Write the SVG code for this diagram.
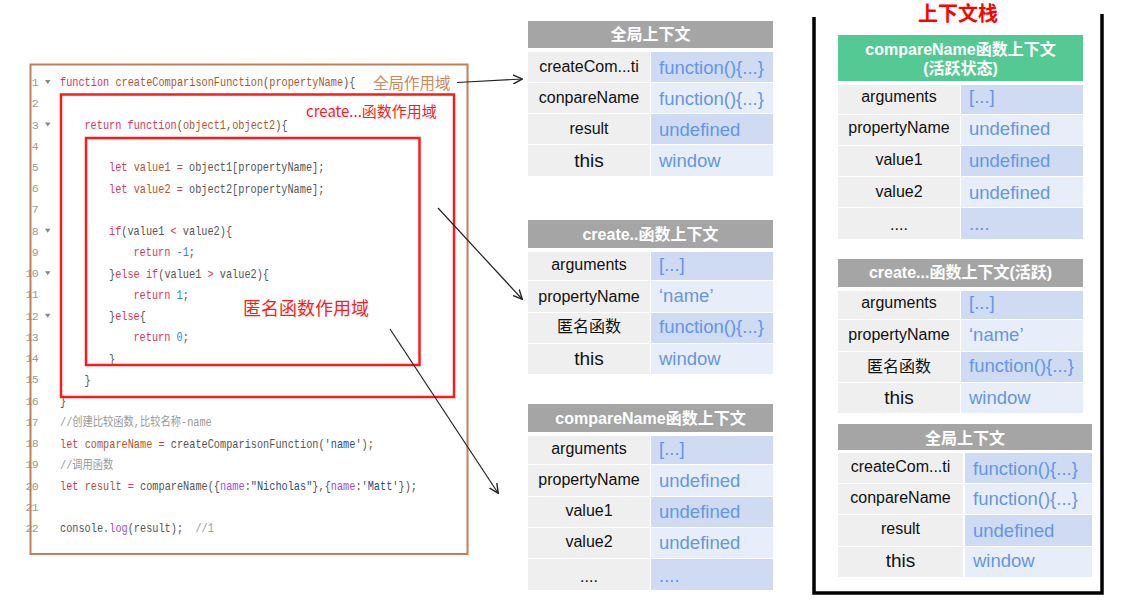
<svg xmlns="http://www.w3.org/2000/svg" width="1121" height="613" viewBox="0 0 1121 613">
<defs>
<marker id="arr" viewBox="0 0 10 10" refX="9" refY="5" markerWidth="10" markerHeight="10" markerUnits="userSpaceOnUse" orient="auto">
<path d="M0,0.5 L9.5,5 L0,9.5" fill="none" stroke="#222" stroke-width="1.4"/>
</marker>
</defs>
<style>
.code{font-family:"Liberation Mono","Noto Sans CJK SC",monospace;font-size:12px;white-space:pre;fill:#555}
.k{fill:#d7385e}
.f{fill:#b0562e}
.n{fill:#3b7bd8}
.s{fill:#2b4f8c}
.p{fill:#9b4fe0}
.c{fill:#999}
.ln{font-family:"Liberation Mono",monospace;font-size:11.5px;fill:#999;text-anchor:end;letter-spacing:-0.7px}
.tri{fill:#888}
.hd{fill:#a5a5a5}
.hdg{fill:#55c994}
.lc{fill:#efefef}
.r1{fill:#cfdbf3}
.r2{fill:#e8eef9}
.ht{font-family:"Liberation Sans","Noto Sans CJK SC",sans-serif;font-weight:bold;font-size:16px;fill:#fff;text-anchor:middle}
.lt{font-family:"Liberation Sans","Noto Sans CJK SC",sans-serif;font-size:16px;fill:#111;text-anchor:middle}
.big{font-size:19px}
.rt{font-family:"Liberation Sans",sans-serif;font-size:18.5px;fill:#6396e6}
.conn{fill:none;stroke:#222;stroke-width:1.2;marker-end:url(#arr)}
</style>
<rect width="1121" height="613" fill="#fff"/>

<g id="code-panel">
<text class="ln" x="38" y="86">1</text>
<text class="ln" x="38" y="107.2">2</text>
<text class="ln" x="38" y="128.5">3</text>
<text class="ln" x="38" y="149.7">4</text>
<text class="ln" x="38" y="171">5</text>
<text class="ln" x="38" y="192.2">6</text>
<text class="ln" x="38" y="213.4">7</text>
<text class="ln" x="38" y="234.7">8</text>
<text class="ln" x="38" y="255.9">9</text>
<text class="ln" x="38" y="277.2">10</text>
<text class="ln" x="38" y="298.4">11</text>
<text class="ln" x="38" y="319.7">12</text>
<text class="ln" x="38" y="340.9">13</text>
<text class="ln" x="38" y="362.1">14</text>
<text class="ln" x="38" y="383.4">15</text>
<text class="ln" x="38" y="404.6">16</text>
<text class="ln" x="38" y="425.8">17</text>
<text class="ln" x="38" y="447.1">18</text>
<text class="ln" x="38" y="468.3">19</text>
<text class="ln" x="38" y="489.6">20</text>
<text class="ln" x="38" y="510.8">21</text>
<text class="ln" x="38" y="532">22</text>
<path class="tri" d="M45,80 h5.5 l-2.75,4 z M45,122.5 h5.5 l-2.75,4 z M45,228.7 h5.5 l-2.75,4 z M45,271.2 h5.5 l-2.75,4 z M45,313.7 h5.5 l-2.75,4 z"/>

<g transform="matrix(0.855,0,0,1,0,0)">
<text class="code" x="70.2" y="86.5"><tspan class="k">function</tspan> <tspan class="f">createComparisonFunction</tspan>(<tspan class="f">propertyName</tspan>){</text>
<text class="code" x="98.8" y="129"><tspan class="k">return function</tspan>(<tspan class="f">object1</tspan>,<tspan class="f">object2</tspan>){</text>
<text class="code" x="127.5" y="171.5"><tspan class="k">let</tspan> <tspan class="f">value1</tspan> <tspan class="k">=</tspan> object1[propertyName];</text>
<text class="code" x="127.5" y="192.7"><tspan class="k">let</tspan> <tspan class="f">value2</tspan> <tspan class="k">=</tspan> object2[propertyName];</text>
<text class="code" x="127.5" y="235.2"><tspan class="k">if</tspan>(value1 <tspan class="k">&lt;</tspan> value2){</text>
<text class="code" x="156.1" y="256.4"><tspan class="k">return</tspan> <tspan class="n">-1</tspan>;</text>
<text class="code" x="127.5" y="277.7">}<tspan class="k">else if</tspan>(value1 <tspan class="k">&gt;</tspan> value2){</text>
<text class="code" x="156.1" y="298.9"><tspan class="k">return</tspan> <tspan class="n">1</tspan>;</text>
<text class="code" x="127.5" y="320.2">}<tspan class="k">else</tspan>{</text>
<text class="code" x="156.1" y="341.4"><tspan class="k">return</tspan> <tspan class="n">0</tspan>;</text>
<text class="code" x="127.5" y="362.6">}</text>
<text class="code" x="98.8" y="383.9">}</text>
<text class="code" x="70.2" y="405.1">}</text>
<text class="code c" x="70.2" y="426.3">//创建比较函数,比较名称-name</text>
<text class="code" x="70.2" y="447.6"><tspan class="k">let</tspan> <tspan class="f">compareName</tspan> <tspan class="k">=</tspan> createComparisonFunction('<tspan class="s">name</tspan>');</text>
<text class="code c" x="70.2" y="468.8">//调用函数</text>
<text class="code" x="70.2" y="490.1"><tspan class="k">let</tspan> <tspan class="f">result</tspan> <tspan class="k">=</tspan> compareName({<tspan class="p">name</tspan>:<tspan class="s">"Nicholas"</tspan>},{<tspan class="p">name</tspan>:<tspan class="s">'Matt'</tspan>});</text>
<text class="code" x="70.2" y="532.5">console.<tspan class="p">log</tspan>(result);  <tspan class="c">//1</tspan></text>
</g>

<rect x="30.5" y="64.5" width="437" height="489.5" fill="none" stroke="#c27f57" stroke-width="2"/>
<rect x="61" y="94.5" width="393" height="302.5" fill="none" stroke="#ff1a1a" stroke-width="2.5"/>
<rect x="86" y="138" width="333.5" height="227" fill="none" stroke="#ff1a1a" stroke-width="2.5"/>
<text x="373" y="88.5" style="font-family:'Noto Sans CJK SC',sans-serif;font-size:15.5px;fill:#c98a5e">全局作用域</text>
<text x="306" y="117" style="font-family:'Noto Sans CJK SC',sans-serif;font-size:15px;fill:#ff1a1a">create...函数作用域</text>
<text x="243" y="314.5" style="font-family:'Noto Sans CJK SC',sans-serif;font-size:18px;fill:#ff1a1a">匿名函数作用域</text>
</g>

<g id="global-ctx">
<rect class="hd" x="528" y="21" width="245" height="27"/>
<text class="ht" x="650.5" y="40">全局上下文</text>
<rect class="lc" x="528" y="52" width="122" height="30"/><rect class="r1" x="651" y="52" width="122" height="30"/>
<rect class="lc" x="528" y="83" width="122" height="30"/><rect class="r2" x="651" y="83" width="122" height="30"/>
<rect class="lc" x="528" y="114" width="122" height="30"/><rect class="r1" x="651" y="114" width="122" height="30"/>
<rect class="lc" x="528" y="145" width="122" height="31"/><rect class="r2" x="651" y="145" width="122" height="31"/>
<text class="lt" x="589" y="71.5">createCom...ti</text><text class="rt" x="659" y="73.5">function(){...}</text>
<text class="lt" x="589" y="102.5">conpareName</text><text class="rt" x="659" y="104.5">function(){...}</text>
<text class="lt" x="589" y="133.5">result</text><text class="rt" x="659" y="135.5">undefined</text>
<text class="lt big" x="589" y="166.5">this</text><text class="rt" x="659" y="166.5">window</text>
</g>

<g id="create-ctx">
<rect class="hd" x="528" y="220" width="245" height="28"/>
<text class="ht" x="650.5" y="240">create..函数上下文</text>
<rect class="lc" x="528" y="252" width="122" height="28"/><rect class="r1" x="651" y="252" width="122" height="28"/>
<rect class="lc" x="528" y="281" width="122" height="31"/><rect class="r2" x="651" y="281" width="122" height="31"/>
<rect class="lc" x="528" y="313" width="122" height="30"/><rect class="r1" x="651" y="313" width="122" height="30"/>
<rect class="lc" x="528" y="344" width="122" height="30"/><rect class="r2" x="651" y="344" width="122" height="30"/>
<text class="lt" x="589" y="270">arguments</text><text class="rt" x="659" y="271">[...]</text>
<text class="lt" x="589" y="301.5">propertyName</text><text class="rt" x="659" y="302">‘name’</text>
<text class="lt" x="589" y="332">匿名函数</text><text class="rt" x="659" y="333">function(){...}</text>
<text class="lt big" x="589" y="365">this</text><text class="rt" x="659" y="365">window</text>
</g>

<g id="compare-ctx">
<rect class="hd" x="528" y="404" width="245" height="28"/>
<text class="ht" x="650.5" y="424">compareName函数上下文</text>
<rect class="lc" x="528" y="436" width="122" height="28"/><rect class="r1" x="651" y="436" width="122" height="28"/>
<rect class="lc" x="528" y="465" width="122" height="31"/><rect class="r2" x="651" y="465" width="122" height="31"/>
<rect class="lc" x="528" y="497" width="122" height="30"/><rect class="r1" x="651" y="497" width="122" height="30"/>
<rect class="lc" x="528" y="528" width="122" height="30"/><rect class="r2" x="651" y="528" width="122" height="30"/>
<rect class="lc" x="528" y="559" width="122" height="31"/><rect class="r1" x="651" y="559" width="122" height="31"/>
<text class="lt" x="589" y="454">arguments</text><text class="rt" x="659" y="455">[...]</text>
<text class="lt" x="589" y="485">propertyName</text><text class="rt" x="659" y="486.5">undefined</text>
<text class="lt" x="589" y="516">value1</text><text class="rt" x="659" y="518">undefined</text>
<text class="lt" x="589" y="546.5">value2</text><text class="rt" x="659" y="549">undefined</text>
<text class="lt" x="589" y="581.5">....</text><text class="rt" x="659" y="582">....</text>
</g>

<g id="context-stack">
<path d="M814,17 V593 H1102 V14" fill="none" stroke="#000" stroke-width="3.5"/>
<text x="958" y="21" style="font-family:'Noto Sans CJK SC',sans-serif;font-weight:bold;font-size:20px;fill:#ff0000;text-anchor:middle">上下文栈</text>
</g>

<g id="stack-compare-ctx">
<rect class="hdg" x="838" y="35" width="245" height="46"/>
<text class="ht" x="960.5" y="55">compareName函数上下文</text>
<text class="ht" x="960.5" y="74">(活跃状态)</text>
<rect class="lc" x="838" y="85" width="122" height="29"/><rect class="r1" x="961" y="85" width="122" height="29"/>
<rect class="lc" x="838" y="115" width="122" height="30"/><rect class="r2" x="961" y="115" width="122" height="30"/>
<rect class="lc" x="838" y="146" width="122" height="30"/><rect class="r1" x="961" y="146" width="122" height="30"/>
<rect class="lc" x="838" y="177" width="122" height="30"/><rect class="r2" x="961" y="177" width="122" height="30"/>
<rect class="lc" x="838" y="208" width="122" height="31"/><rect class="r1" x="961" y="208" width="122" height="31"/>
<text class="lt" x="899" y="101.5">arguments</text><text class="rt" x="969" y="103">[...]</text>
<text class="lt" x="899" y="133.3">propertyName</text><text class="rt" x="969" y="135">undefined</text>
<text class="lt" x="899" y="165">value1</text><text class="rt" x="969" y="166.7">undefined</text>
<text class="lt" x="899" y="196.7">value2</text><text class="rt" x="969" y="199">undefined</text>
<text class="lt" x="899" y="230">....</text><text class="rt" x="969" y="230">....</text>
</g>

<g id="stack-create-ctx">
<rect class="hd" x="838" y="259" width="245" height="28"/>
<text class="ht" x="960.5" y="278">create...函数上下文(活跃)</text>
<rect class="lc" x="838" y="291" width="122" height="28"/><rect class="r1" x="961" y="291" width="122" height="28"/>
<rect class="lc" x="838" y="320" width="122" height="31"/><rect class="r2" x="961" y="320" width="122" height="31"/>
<rect class="lc" x="838" y="352" width="122" height="30"/><rect class="r1" x="961" y="352" width="122" height="30"/>
<rect class="lc" x="838" y="383" width="122" height="30"/><rect class="r2" x="961" y="383" width="122" height="30"/>
<text class="lt" x="899" y="308.3">arguments</text><text class="rt" x="969" y="309">[...]</text>
<text class="lt" x="899" y="340">propertyName</text><text class="rt" x="969" y="340.7">‘name’</text>
<text class="lt" x="899" y="371.5">匿名函数</text><text class="rt" x="969" y="371.5">function(){...}</text>
<text class="lt big" x="899" y="404">this</text><text class="rt" x="969" y="404">window</text>
</g>

<g id="stack-global-ctx">
<rect class="hd" x="838" y="424" width="254" height="26"/>
<text class="ht" x="965" y="444">全局上下文</text>
<rect class="lc" x="838" y="453" width="125" height="30"/><rect class="r1" x="965" y="453" width="127" height="30"/>
<rect class="lc" x="838" y="484" width="125" height="30"/><rect class="r2" x="965" y="484" width="127" height="30"/>
<rect class="lc" x="838" y="515" width="125" height="31"/><rect class="r1" x="965" y="515" width="127" height="31"/>
<rect class="lc" x="838" y="547" width="125" height="30"/><rect class="r2" x="965" y="547" width="127" height="30"/>
<text class="lt" x="900.5" y="471.7">createCom...ti</text><text class="rt" x="973" y="475">function(){...}</text>
<text class="lt" x="900.5" y="503.3">conpareName</text><text class="rt" x="973" y="505">function(){...}</text>
<text class="lt" x="900.5" y="534.3">result</text><text class="rt" x="973" y="536.7">undefined</text>
<text class="lt big" x="900.5" y="566.7">this</text><text class="rt" x="973" y="567.3">window</text>
</g>

<g id="connectors">
<path class="conn" d="M457,82.5 L522,79"/>
<path class="conn" d="M438,208 L522,299"/>
<path class="conn" d="M390,329 L498,493"/>
</g>
</svg>
